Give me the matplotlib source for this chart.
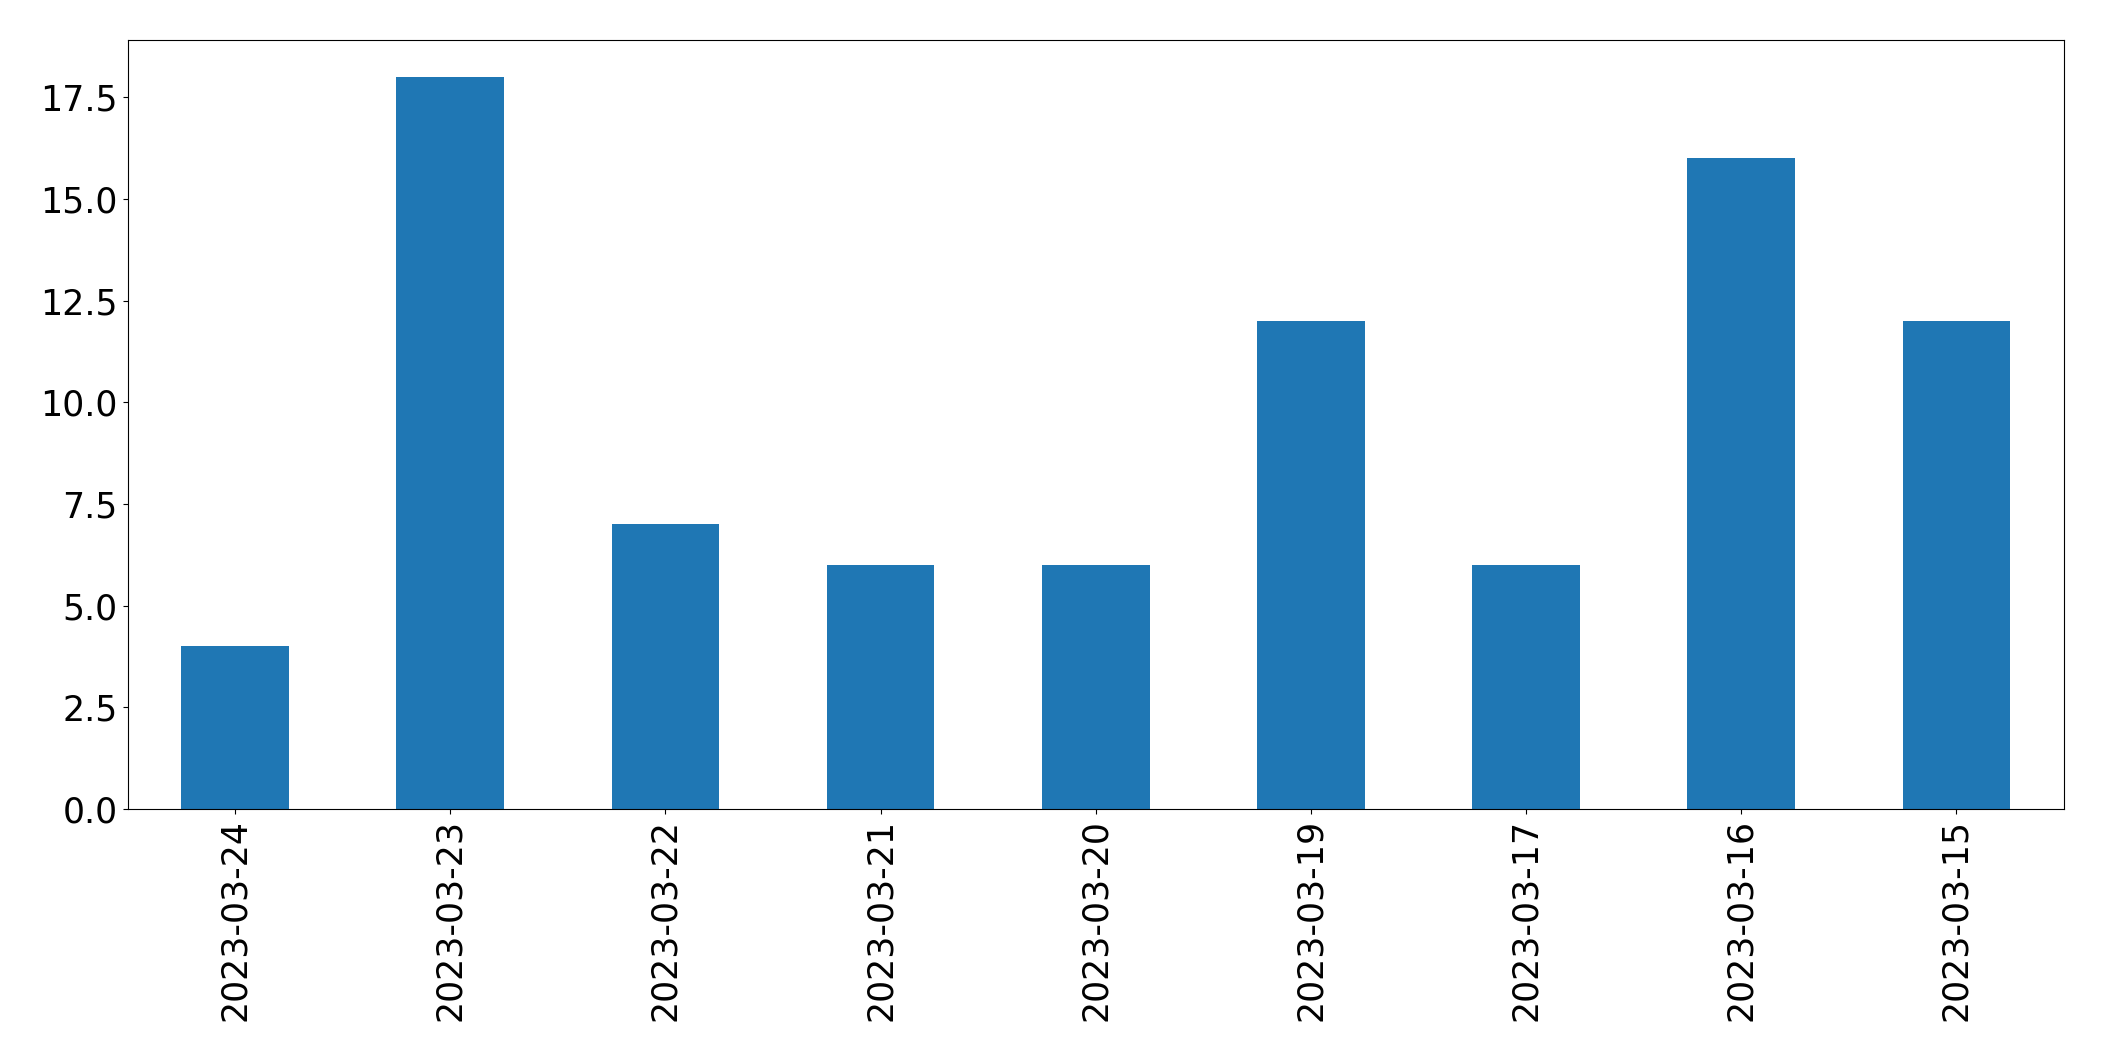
import pandas as pd
import matplotlib
matplotlib.use("Agg")
import matplotlib.pyplot as plt

dates = ["2023-03-24", "2023-03-23", "2023-03-22", "2023-03-21", "2023-03-20",
         "2023-03-19", "2023-03-17", "2023-03-16", "2023-03-15"]
counts = [4, 18, 7, 6, 6, 12, 6, 16, 12]

plt.rcParams["font.size"] = 25

s = pd.Series(counts, index=dates)

fig = plt.figure(figsize=(21.04, 10.61), dpi=100)
ax = fig.add_axes([0.0606, 0.2375, 0.9204, 0.7245])
s.plot(kind="bar", ax=ax, color="#1f77b4")
ax.tick_params(axis="both", labelsize=25)

fig.savefig("out.png", dpi=100)
